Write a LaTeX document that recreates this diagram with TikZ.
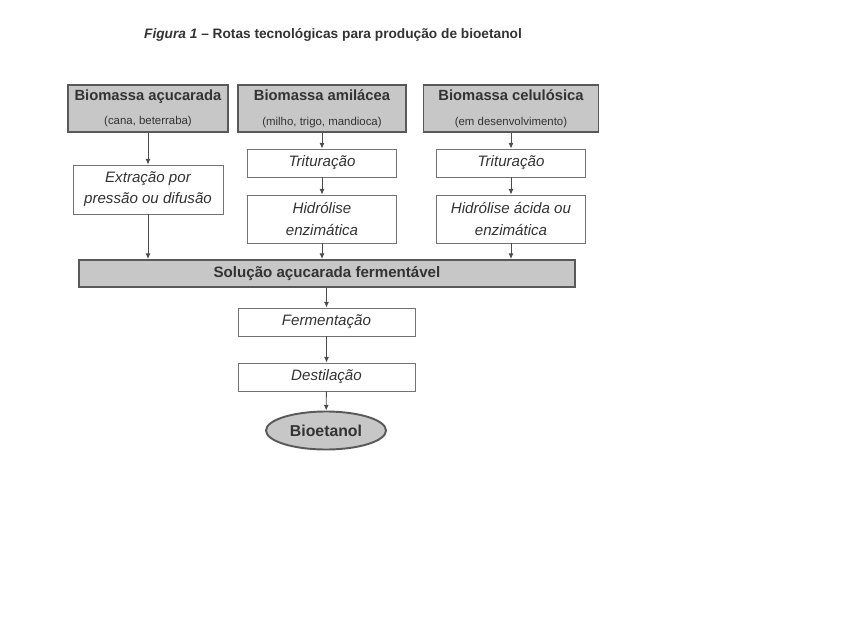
\documentclass[tikz,border=0pt]{standalone}
\usepackage{fontspec}
\setmainfont{Liberation Sans}
\usepackage{tikz}
\usetikzlibrary{arrows.meta,shapes.geometric}
\usepackage{xcolor}

\begin{document}
\begin{tikzpicture}[x=0.02cm, y=-0.02cm,
    txt/.style={text=black!80},
    source/.style={draw=black!65, line width=1.1pt, fill=black!22, txt,
      minimum height=0.94cm, align=center, inner sep=1pt},
    stepbox/.style={draw=black!55, line width=0.5pt, fill=white, txt,
      minimum width=2.98cm, minimum height=0.56cm, align=center,
      font=\fontsize{8.6}{12}\selectfont\itshape, inner sep=1pt},
    flow/.style={draw=black!70, line width=0.5pt,
      -{Latex[length=3.2pt,width=2.8pt]}}]
  \useasboundingbox (0,0) rectangle (866,636);

  \node[txt, font=\fontsize{7.8}{9}\selectfont\bfseries] (title) at (333,35)
    {\textit{Figura 1} – Rotas tecnológicas para produção de bioetanol};

  % fontes de biomassa
  \node[source, minimum width=3.2cm] (acu) at (148,108.5)
    {\fontsize{8.4}{10}\selectfont\bfseries Biomassa açucarada\\[2pt]
     \fontsize{6.5}{7}\selectfont (cana, beterraba)};
  \node[source, minimum width=3.36cm] (ami) at (322,108.5)
    {\fontsize{8.4}{10}\selectfont\bfseries Biomassa amilácea\\[2pt]
     \fontsize{6.5}{7}\selectfont (milho, trigo, mandioca)};
  \node[source, minimum width=3.5cm] (cel) at (511,108.5)
    {\fontsize{8.4}{10}\selectfont\bfseries Biomassa celulósica\\[2pt]
     \fontsize{6.5}{7}\selectfont (em desenvolvimento)};

  % etapas de preparo
  \node[stepbox, minimum width=3.0cm, minimum height=0.98cm] (ext) at (148,189.5)
    {Extração por\\pressão ou difusão};
  \node[stepbox] (trit1) at (322,163) {Trituração};
  \node[stepbox, minimum height=0.96cm] (hid1) at (322,219)
    {Hidrólise\\enzimática};
  \node[stepbox] (trit2) at (511,163) {Trituração};
  \node[stepbox, minimum height=0.96cm] (hid2) at (511,219)
    {Hidrólise ácida ou\\enzimática};

  \node[source, minimum width=9.94cm, minimum height=0.54cm,
    font=\fontsize{8.6}{10}\selectfont\bfseries] (sol) at (327,273.5)
    {Solução açucarada fermentável};

  \node[stepbox, minimum width=3.54cm] (ferm) at (326.5,322) {Fermentação};
  \node[stepbox, minimum width=3.54cm] (dest) at (326.5,377) {Destilação};
  \node[ellipse, draw=black!65, line width=1.1pt, fill=black!22, txt,
    minimum width=2.4cm, minimum height=0.76cm, inner sep=0pt,
    font=\fontsize{9}{10}\selectfont\bfseries] (bio) at (326,430.5) {Bioetanol};

  \draw[flow] (acu) -- (ext);
  \draw[flow] (ext.south) -- (ext.south |- sol.north);
  \draw[flow] (ami) -- (trit1);
  \draw[flow] (trit1) -- (hid1);
  \draw[flow] (hid1.south) -- (hid1.south |- sol.north);
  \draw[flow] (cel) -- (trit2);
  \draw[flow] (trit2) -- (hid2);
  \draw[flow] (hid2.south) -- (hid2.south |- sol.north);
  \draw[flow] (sol.south -| ferm) -- (ferm);
  \draw[flow] (ferm) -- (dest);
  \draw[flow] (dest) -- (bio);
\end{tikzpicture}
\end{document}
